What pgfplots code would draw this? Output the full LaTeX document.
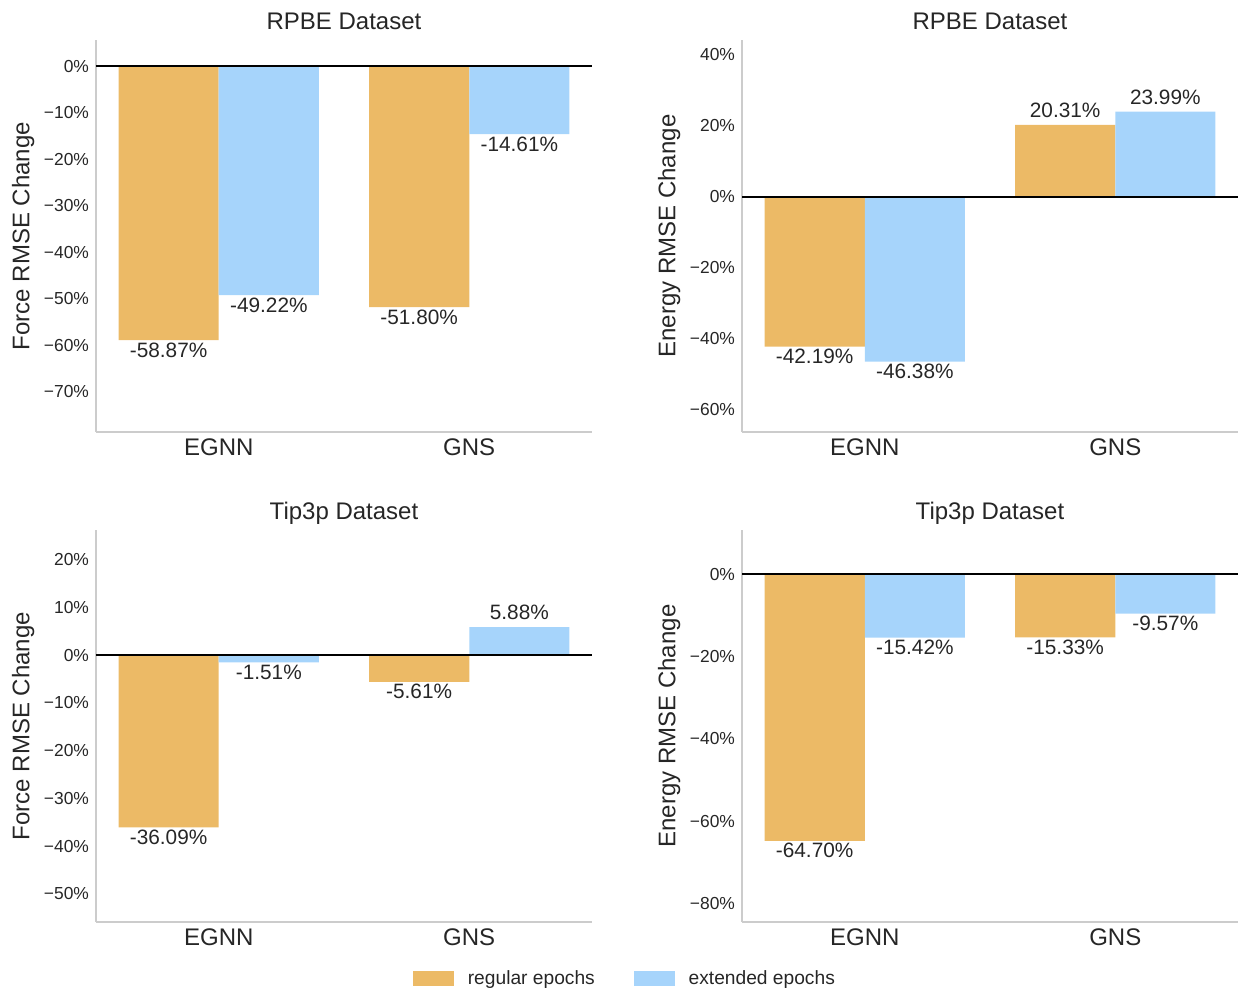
\documentclass[border=0pt]{standalone}
\usepackage{fontspec}
\setmainfont{Liberation Sans}
\usepackage{pgfplots}
\pgfplotsset{compat=1.18}
\definecolor{regc}{HTML}{ECBA66}
\definecolor{extc}{HTML}{A6D4FB}
\definecolor{txt}{HTML}{262626}
\definecolor{spine}{HTML}{CCCCCC}
\pgfplotsset{
 panel/.style={
  scale only axis, width=248pt, height=196pt,
  axis x line*=bottom, axis y line*=left,
  axis line style={spine, line width=0.8pt, -},
  major tick length=0pt,
  xmin=-0.49, xmax=1.49,
  xtick={0,1}, xticklabels={EGNN,GNS},
  xticklabel style={font=\fontsize{12}{14}\selectfont, text=txt},
  yticklabel style={font=\fontsize{8.7}{10}\selectfont, text=txt},
  every axis title shift=0pt,
  title style={font=\fontsize{12}{14}\selectfont, text=txt, at={(axis description cs:0.5,1)}, anchor=base, yshift=5pt},
  ylabel style={font=\fontsize{12}{14}\selectfont, text=txt, at={(axis description cs:-0.147,0.5)}, anchor=center},
  ybar=0pt, bar width=0.4,
  point meta=y,
  visualization depends on={y \as \rawy},
  nodes near coords={\pgfmathprintnumber[fixed,fixed zerofill,precision=2,assume math mode=true]{\pgfplotspointmeta}\%},
  nodes near coords align={vertical},
  every node near coord/.append style={font=\fontsize{10.4}{12}\selectfont, text=txt, inner sep=1pt, yshift={ifthenelse(\rawy>0,2.5,0)}},
  clip=false,
 },
}
\newcommand{\zeroline}{\draw[black, line width=1.25pt] ({rel axis cs:0,0}|-{axis cs:0,0}) -- ({rel axis cs:1,0}|-{axis cs:0,0});}
\begin{document}
\begin{tikzpicture}
\useasboundingbox (0,0) rectangle (619.5pt,494.5pt);
% Top left
\begin{axis}[panel, at={(48pt,278.5pt)}, anchor=south west,
  ymin=-78.6, ymax=5.6,
  ytick={-70,-60,-50,-40,-30,-20,-10,0},
  yticklabels={−70\%,−60\%,−50\%,−40\%,−30\%,−20\%,−10\%,0\%},
  title={RPBE Dataset}, ylabel={Force RMSE Change}]
\addplot[fill=regc, draw=none, bar shift=-0.2] coordinates {(0,-58.87) (1,-51.80)};
\addplot[fill=extc, draw=none, bar shift=0.2] coordinates {(0,-49.22) (1,-14.61)};
\zeroline
\end{axis}
% Top right
\begin{axis}[panel, at={(371pt,278.5pt)}, anchor=south west,
  ymin=-66.2, ymax=44.2,
  ytick={-60,-40,-20,0,20,40},
  yticklabels={−60\%,−40\%,−20\%,0\%,20\%,40\%},
  title={RPBE Dataset}, ylabel={Energy RMSE Change}]
\addplot[fill=regc, draw=none, bar shift=-0.2] coordinates {(0,-42.19) (1,20.31)};
\addplot[fill=extc, draw=none, bar shift=0.2] coordinates {(0,-46.38) (1,23.99)};
\zeroline
\end{axis}
% Bottom left
\begin{axis}[panel, at={(48pt,33.5pt)}, anchor=south west,
  ymin=-55.9, ymax=26.2,
  ytick={-50,-40,-30,-20,-10,0,10,20},
  yticklabels={−50\%,−40\%,−30\%,−20\%,−10\%,0\%,10\%,20\%},
  title={Tip3p Dataset}, ylabel={Force RMSE Change},
  legend style={at={(axis description cs:1.0685,-0.145)}, anchor=center, draw=none, fill=none,
    legend columns=2, font=\fontsize{9.6}{11}\selectfont, text=txt,
    /tikz/every odd column/.append style={column sep=5pt},
    /tikz/every even column/.append style={column sep=17.5pt}}]
\addplot[fill=regc, draw=none, bar shift=-0.2, forget plot] coordinates {(0,-36.09) (1,-5.61)};
\addplot[fill=extc, draw=none, bar shift=0.2, forget plot] coordinates {(0,-1.51) (1,5.88)};
\zeroline
\addlegendimage{legend image code/.code={\fill[regc] (0pt,-3.5pt) rectangle (20pt,3.5pt);}}
\addlegendentry{regular epochs}
\addlegendimage{legend image code/.code={\fill[extc] (0pt,-3.5pt) rectangle (20pt,3.5pt);}}
\addlegendentry{extended epochs}
\end{axis}
% Bottom right
\begin{axis}[panel, at={(371pt,33.5pt)}, anchor=south west,
  ymin=-84.4, ymax=10.7,
  ytick={-80,-60,-40,-20,0},
  yticklabels={−80\%,−60\%,−40\%,−20\%,0\%},
  title={Tip3p Dataset}, ylabel={Energy RMSE Change}]
\addplot[fill=regc, draw=none, bar shift=-0.2] coordinates {(0,-64.70) (1,-15.33)};
\addplot[fill=extc, draw=none, bar shift=0.2] coordinates {(0,-15.42) (1,-9.57)};
\zeroline
\end{axis}
\end{tikzpicture}
\end{document}
